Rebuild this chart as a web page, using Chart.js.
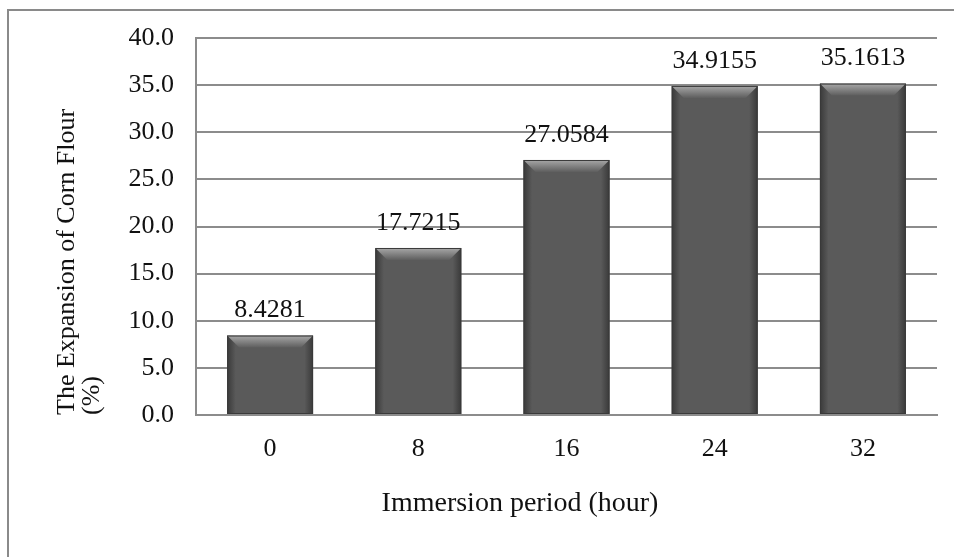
<!DOCTYPE html>
<html>
<head>
<meta charset="utf-8">
<script src="https://cdn.jsdelivr.net/npm/chart.js@4/dist/chart.umd.min.js"></script>
<style>
    html, body { margin: 0; padding: 0; background: #fff; }
    #wrap { position: relative; width: 954px; height: 557px; overflow: hidden; }
    #frame { position: absolute; left: 7px; top: 9px; width: 1000px; height: 600px;
             border-left: 2px solid #8a8a8a; border-top: 2px solid #8a8a8a; }
    canvas { position: absolute; left: 0; top: 0; }
</style>
</head>
<body>
<div id="wrap">
    <div id="frame"></div>
    <canvas id="expansionChart" width="954" height="557"></canvas>
</div>
<script>
// Chart data
const periods = ['0', '8', '16', '24', '32'];
const expansion = [8.4281, 17.7215, 27.0584, 34.9155, 35.1613];
const valueLabels = ['8.4281', '17.7215', '27.0584', '34.9155', '35.1613'];
const yTicks = [0, 5, 10, 15, 20, 25, 30, 35, 40];

const serif = '"Liberation Serif", "Times New Roman", serif';
const textColor = '#111';
const gridColor = '#8c8c8c';

// Bevel shading on each bar (Excel style)
const bevelPlugin = {
    id: 'bevel',
    afterDatasetsDraw(chart) {
        const ctx = chart.ctx;
        chart.getDatasetMeta(0).data.forEach(bar => {
            const left = bar.x - bar.width / 2;
            const right = bar.x + bar.width / 2;
            const top = bar.y;
            const bottom = bar.base;
            const b = 12;
            ctx.save();
            // side shading
            let g = ctx.createLinearGradient(left, 0, right, 0);
            g.addColorStop(0, 'rgba(30,30,30,0.55)');
            g.addColorStop(0.1, 'rgba(30,30,30,0)');
            g.addColorStop(0.9, 'rgba(30,30,30,0)');
            g.addColorStop(1, 'rgba(30,30,30,0.55)');
            ctx.fillStyle = g;
            ctx.fillRect(left, top, right - left, bottom - top);
            // top bevel
            g = ctx.createLinearGradient(0, top, 0, top + b);
            g.addColorStop(0, '#a8a8a8');
            g.addColorStop(1, '#5e5e5e');
            ctx.fillStyle = g;
            ctx.beginPath();
            ctx.moveTo(left, top);
            ctx.lineTo(right, top);
            ctx.lineTo(right - b, top + b);
            ctx.lineTo(left + b, top + b);
            ctx.closePath();
            ctx.fill();
            ctx.strokeStyle = '#3a3a3a';
            ctx.lineWidth = 1;
            ctx.strokeRect(left + 0.5, top + 0.5, right - left - 1, bottom - top - 1);
            ctx.restore();
        });
    }
};

// Value labels above bars and x axis title
const labelPlugin = {
    id: 'labels',
    afterDraw(chart) {
        const ctx = chart.ctx;
        ctx.save();
        ctx.fillStyle = textColor;
        ctx.textAlign = 'center';
        ctx.textBaseline = 'middle';
        ctx.font = '26px ' + serif;
        chart.getDatasetMeta(0).data.forEach((bar, i) => {
            ctx.fillText(valueLabels[i], bar.x, bar.y - 25);
        });
        ctx.font = '28px ' + serif;
        ctx.fillText('Immersion period (hour)', 520, 504);
        ctx.restore();
    }
};

const ctx = document.getElementById('expansionChart').getContext('2d');
const expansionChart = new Chart(ctx, {
    type: 'bar',
    data: {
        labels: periods,
        datasets: [{
            data: expansion,
            backgroundColor: '#5a5a5a',
            borderWidth: 0,
            barPercentage: 0.58,
            categoryPercentage: 1.0
        }]
    },
    options: {
        responsive: false,
        animation: false,
        layout: { padding: { left: 0, top: 38, right: 17, bottom: 0 } },
        plugins: {
            legend: { display: false },
            tooltip: { enabled: false }
        },
        scales: {
            x: {
                grid: { display: false, drawTicks: false },
                border: { display: true, color: gridColor, width: 2 },
                ticks: { color: textColor, font: { family: serif, size: 26 }, padding: 19 },
                afterFit: scale => { scale.height = 142; }
            },
            y: {
                min: 0,
                max: 40,
                afterBuildTicks: scale => { scale.ticks = yTicks.map(v => ({ value: v })); },
                grid: { color: gridColor, lineWidth: 2, drawTicks: false },
                border: { display: true, color: gridColor, width: 2 },
                ticks: {
                    color: textColor,
                    font: { family: serif, size: 26 },
                    padding: 22,
                    callback: v => v.toFixed(1)
                },
                title: {
                    display: true,
                    text: ['The Expansion of Corn Flour', '(%)'],
                    align: 'start',
                    color: textColor,
                    font: { family: serif, size: 26, lineHeight: 0.95 },
                    padding: { top: 55, bottom: 0 }
                },
                afterFit: scale => { scale.width = 196; }
            }
        }
    },
    plugins: [bevelPlugin, labelPlugin]
});
</script>
</body>
</html>
